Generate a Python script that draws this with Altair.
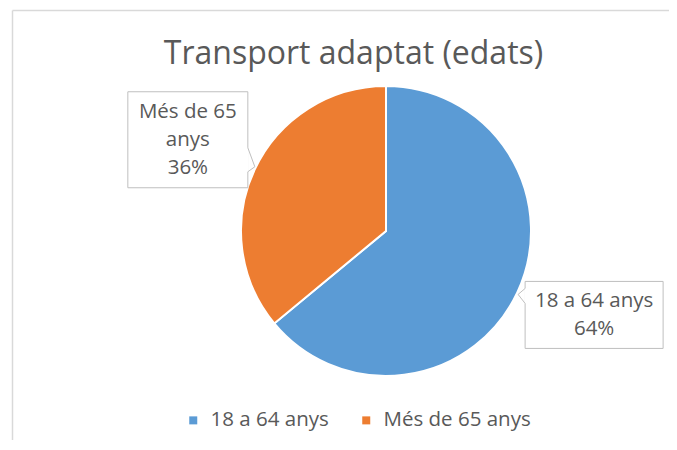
import math
import altair as alt
import pandas as pd

# ---- data ----
categories = ["18 a 64 anys", "Més de 65 anys"]
values = [64, 36]
label_lines = [["18 a 64 anys", "64%"], ["Més de 65", "anys", "36%"]]
colors = ["#5B9BD5", "#ED7D31"]
title_text = "Transport adaptat (edats)"

# ---- layout (view pixel coords; page = view + 8) ----
W, H = 661, 432
CX, CY, R = 378, 223, 145
FONT = "Open Sans"
TXT = "#595959"
FS = 20.5
label_radius = [230, 219]
label_dy = [-14, 2]
box_w = [138, 120]
box_h = [67, 96]
line_h = 28

total = sum(values)
rows = []
cum = 0
for i, (c, v) in enumerate(zip(categories, values)):
    mid = (cum + v / 2) / total * 2 * math.pi
    cum += v
    lx = CX + label_radius[i] * math.sin(mid)
    ly = CY - label_radius[i] * math.cos(mid) + label_dy[i]
    n = len(label_lines[i])
    rows.append(dict(cat=c, value=v, idx=i, lx=lx, ly=ly,
                     ty=ly - (n - 1) / 2 * line_h,
                     x1=lx - box_w[i] / 2, x2=lx + box_w[i] / 2,
                     y1=ly - box_h[i] / 2, y2=ly + box_h[i] / 2,
                     txt=label_lines[i]))
df = pd.DataFrame(rows)

color_scale = alt.Scale(domain=categories, range=colors)

pie = alt.Chart(df).mark_arc(outerRadius=R, stroke="white", strokeWidth=2).encode(
    theta=alt.Theta("value:Q", stack=True),
    color=alt.Color("cat:N", scale=color_scale, sort=categories,
                    legend=alt.Legend(title=None, orient="none", direction="horizontal",
                                      legendX=175, legendY=402, symbolType="square",
                                      symbolSize=64, symbolStrokeWidth=0,
                                      labelFont=FONT, labelFontSize=FS, labelColor=TXT,
                                      labelOffset=7, columnPadding=27)),
    order=alt.Order("idx:Q"),
    x=alt.value(CX), y=alt.value(CY),
)

boxes = alt.Chart(df).mark_rect(fill="white", stroke="#BFBFBF", strokeWidth=1).encode(
    x=alt.X("x1:Q", scale=None), x2="x2:Q",
    y=alt.Y("y1:Q", scale=None), y2="y2:Q",
)

# pointers (callout tails), derived from box edges
ptr_rows = []
r0 = df.iloc[0]
ptr_rows += [dict(g=0, o=0, px=r0.x1, py=r0.y1 + 7),
             dict(g=0, o=1, px=r0.x1 - 7, py=r0.y1 + 13),
             dict(g=0, o=2, px=r0.x1, py=r0.y1 + 22)]
r1 = df.iloc[1]
ptr_rows += [dict(g=1, o=0, px=r1.x2, py=r1.y1 + 56),
             dict(g=1, o=1, px=r1.x2 + 7, py=r1.y1 + 75),
             dict(g=1, o=2, px=r1.x2, py=r1.y1 + 80)]
pdf = pd.DataFrame(ptr_rows)
cover = alt.Chart(pdf[pdf.o != 1]).mark_line(color="white", strokeWidth=2).encode(
    x=alt.X("px:Q", scale=None), y=alt.Y("py:Q", scale=None),
    detail="g:N", order="o:Q")
ptr = alt.Chart(pdf).mark_line(color="#BFBFBF", strokeWidth=1).encode(
    x=alt.X("px:Q", scale=None), y=alt.Y("py:Q", scale=None),
    detail="g:N", order="o:Q")

labels = alt.Chart(df).mark_text(font=FONT, fontSize=FS, color=TXT, align="center",
                                 baseline="middle", lineHeight=line_h).encode(
    x=alt.X("lx:Q", scale=None), y=alt.Y("ty:Q", scale=None), text="txt")

title = alt.Chart(pd.DataFrame({"t": [title_text]})).mark_text(
    font=FONT, fontSize=32, color=TXT, align="center", baseline="alphabetic").encode(
    x=alt.value(345.5), y=alt.value(56), text="t:N")

frame_v = alt.Chart(pd.DataFrame({"a": [0]})).mark_rule(color="#D9D9D9", strokeWidth=1.5).encode(
    x=alt.value(4.5), y=alt.value(2.5), y2=alt.value(H + 20))
frame_h = alt.Chart(pd.DataFrame({"a": [0]})).mark_rule(color="#D9D9D9", strokeWidth=1.5).encode(
    x=alt.value(4.5), x2=alt.value(W + 20), y=alt.value(2.5))

chart = alt.layer(frame_v, frame_h, title, pie, boxes, cover, ptr, labels).properties(
    width=W, height=H, autosize=alt.AutoSizeParams(type="none"), padding=0
).configure_view(stroke=None)

chart.save("out.html", embed_options={"renderer": "svg", "actions": False})
